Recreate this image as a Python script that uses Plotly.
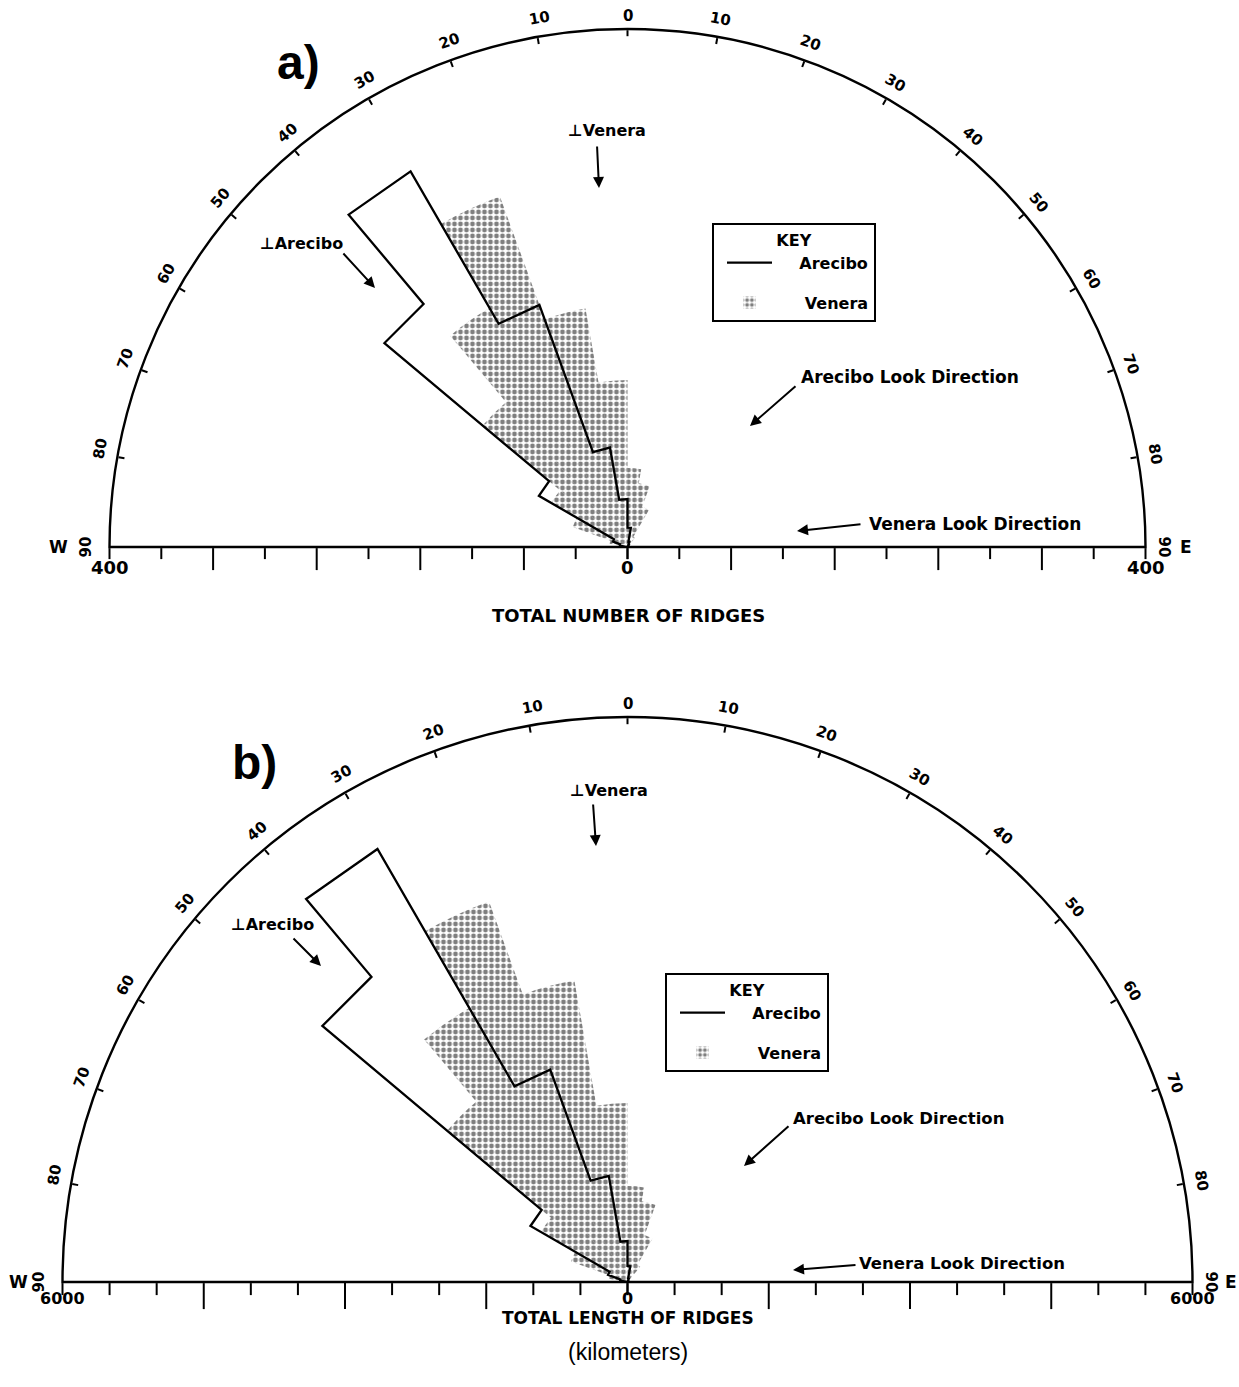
import math
import plotly.graph_objects as go

W, H = 1239, 1387
FONT = "DejaVu Sans"

# ---------------- data ----------------
bin_centers = [-85, -75, -65, -55, -45, -35, -25, -15, -5, 5, 15, 25, 35, 45, 55, 65, 75, 85]
bin_edges = list(range(-90, 91, 10))
angle_ticks = list(range(-90, 91, 10))
angle_tick_labels = [str(abs(a)) for a in angle_ticks]

arecibo_count = [3, 6, 12, 79, 245, 335, 199, 78, 37, 15, 4, 2, 1, 0, 0, 0, 0, 0]
venera_count = [2, 14, 45, 68, 146, 213, 288, 187, 129, 61, 50, 33, 9, 0, 0, 0, 0, 0]

arecibo_km = [30, 80, 220, 1190, 4230, 5310, 2400, 1145, 435, 170, 40, 15, 0, 0, 0, 0, 0, 0]
venera_km = [40, 200, 640, 1060, 2500, 3360, 4300, 3250, 1900, 1020, 870, 530, 210, 0, 0, 0, 0, 0]

count_max = 400
count_minor_ticks = [0, 40, 120, 200, 280, 360, 400]
count_major_ticks = [80, 160, 240, 320]
km_max = 6000
km_minor_ticks = [0, 500, 1000, 2000, 2500, 3500, 4000, 5000, 5500, 6000]
km_major_ticks = [1500, 3000, 4500]

NB = "\u00a0"


def envelope(values):
    th, rr = [bin_edges[0]], [0]
    for lo, hi, v in zip(bin_edges[:-1], bin_edges[1:], values):
        th += [lo, hi]
        rr += [v, v]
    th.append(bin_edges[-1])
    rr.append(0)
    return th, rr


def P(x, y):
    return x / W, 1 - y / H


panels = [
    dict(cx=627.5, cy=547, R=518, rmax=count_max, minor=count_minor_ticks,
         major=count_major_ticks, are=arecibo_count, ven=venera_count,
         ids=["polar", "polar2", "polar3", "polar4"], legend="legend",
         lmaj=22, lmin=11, lfs=18, ldy=20, key=(712, 223), tag="a"),
    dict(cx=627.5, cy=1282, R=565, rmax=km_max, minor=km_minor_ticks,
         major=km_major_ticks, are=arecibo_km, ven=venera_km,
         ids=["polar5", "polar6", "polar7", "polar8"], legend="legend2",
         lmaj=26, lmin=12, lfs=16, ldy=16, key=(665, 973), tag="b"),
]

fig = go.Figure()
layout = {}
annotations = []

for p in panels:
    cx, cy, R = p["cx"], p["cy"], p["R"]
    x0, y0 = P(cx - R, cy)
    x1, y1 = P(cx + R, cy - R)
    dom = dict(x=[x0, x1], y=[y0, y1])

    # Venera (stippled)
    fig.add_trace(go.Barpolar(
        r=p["ven"], theta=bin_centers, width=[10] * len(bin_centers),
        subplot=p["ids"][0], name=NB * 5 + "Venera", legend=p["legend"], legendrank=2,
        legendgroup=p["tag"] + "v",
        marker=dict(color="black", line=dict(width=0),
                    pattern=dict(shape=".", size=6, solidity=0.5,
                                 fgcolor="black", bgcolor="rgba(0,0,0,0)")),
        hoverinfo="skip"))
    # Arecibo (outline)
    th, rr = envelope(p["are"])
    fig.add_trace(go.Scatterpolar(
        r=rr, theta=th, mode="lines", subplot=p["ids"][0], name=NB * 4 + "Arecibo",
        legend=p["legend"], legendrank=1, legendgroup=p["tag"] + "a",
        line=dict(color="black", width=2.3), hoverinfo="skip"))
    for sid in p["ids"][1:]:
        fig.add_trace(go.Scatterpolar(r=[], theta=[], subplot=sid, showlegend=False,
                                      hoverinfo="skip"))

    specs = [
        (180, "counterclockwise", p["minor"], p["lmin"]),
        (180, "counterclockwise", p["major"], p["lmaj"]),
        (0, "clockwise", p["minor"], p["lmin"]),
        (0, "clockwise", p["major"], p["lmaj"]),
    ]
    for k, (sid, (ang, side, tv, tl)) in enumerate(zip(p["ids"], specs)):
        radial = dict(range=[0, p["rmax"]], angle=ang, side=side, tickmode="array",
                      tickvals=tv, showticklabels=False, ticks="outside", ticklen=tl,
                      tickwidth=2.2, tickcolor="black", showline=True,
                      linecolor="black", linewidth=2.2, showgrid=False)
        if k == 0:
            angular = dict(rotation=90, direction="clockwise", tickmode="array",
                           tickvals=angle_ticks, showticklabels=False, ticks="inside",
                           ticklen=6, tickwidth=2, tickcolor="black", showline=True,
                           linecolor="black", linewidth=2.4, showgrid=False)
        else:
            angular = dict(rotation=90, direction="clockwise", visible=False)
        layout[sid] = dict(domain=dom, sector=[0, 180], bgcolor="rgba(0,0,0,0)",
                           radialaxis=radial, angularaxis=angular)

    # radial axis end labels (0 at the centre, max at both ends)
    for v, sgn in [(p["rmax"], -1), (0, 0), (p["rmax"], 1)]:
        x, y = P(cx + sgn * R * v / p["rmax"], cy + p["ldy"])
        annotations.append(dict(x=x, y=y, xref="paper", yref="paper", text=str(v),
                                showarrow=False, xanchor="center", yanchor="middle",
                                font=dict(family=FONT, size=p["lfs"], color="black",
                                          weight="bold")))

    # angular tick labels, rotated along the arc
    for a, lab in zip(angle_ticks, angle_tick_labels):
        shift = 0.6 if -90 < a < 0 else 0.0
        ang = math.radians(a + shift)
        rr_ = R + (13 if a == 0 else (24 if a == -90 else 18))
        x, y = P(cx + rr_ * math.sin(ang), cy - rr_ * math.cos(ang))
        annotations.append(dict(x=x, y=y, xref="paper", yref="paper", text=lab,
                                showarrow=False, textangle=a, xanchor="center",
                                yanchor="middle",
                                font=dict(family=FONT, size=15, color="black", weight="bold")))

    # legend box (KEY)
    lx, ly = P(*p["key"])
    layout[p["legend"]] = dict(
        x=lx, y=ly, xanchor="left", yanchor="top", bgcolor="white",
        bordercolor="black", borderwidth=2, itemwidth=45, indentation=8,
        title=dict(text="KEY", side="top center",
                   font=dict(family=FONT, size=16, color="black", weight="bold")),
        font=dict(family=FONT, size=16, color="black", weight="bold"),
        tracegroupgap=16)


def text(x, y, s, size=17, weight="bold", family=FONT):
    xx, yy = P(x, y)
    annotations.append(dict(x=xx, y=yy, xref="paper", yref="paper", text=s,
                            showarrow=False, xanchor="center", yanchor="middle",
                            font=dict(family=family, size=size, color="black",
                                      weight=weight)))


def arrow(xa, ya, xb, yb):
    xx, yy = P(xb, yb)
    annotations.append(dict(x=xx, y=yy, xref="paper", yref="paper", text="",
                            showarrow=True, ax=xa - xb, ay=ya - yb, arrowhead=2,
                            arrowsize=1.1, arrowwidth=2, arrowcolor="black"))


# panel a labels
text(298, 62, "a)", size=48, family="Liberation Sans")
text(607, 130, "⊥Venera", size=16)
arrow(597, 145, 599, 188)
text(301, 243, "⊥Arecibo", size=16)
arrow(342, 252, 375, 288)
text(910, 377, "Arecibo Look Direction", size=17)
arrow(797, 385, 750, 426)
text(975, 524, "Venera Look Direction", size=17)
arrow(862, 524, 797, 531)
text(58, 547, "W", size=17)
text(1186, 547, "E", size=17)
text(628, 615, "TOTAL NUMBER OF RIDGES", size=18)

# panel b labels
text(254, 762, "b)", size=48, family="Liberation Sans")
text(609, 790, "⊥Venera", size=16)
arrow(593, 803, 596, 846)
text(272, 924, "⊥Arecibo", size=16)
arrow(292, 937, 321, 966)
text(898, 1118, "Arecibo Look Direction", size=16.5)
arrow(790, 1125, 744, 1166)
text(962, 1263, "Venera Look Direction", size=16.5)
arrow(857, 1265, 793, 1270)
text(18, 1282, "W", size=17)
text(1231, 1282, "E", size=17)
text(628, 1318, "TOTAL LENGTH OF RIDGES", size=17)
text(628, 1352, "(kilometers)", size=23, weight="normal", family="Liberation Sans")

fig.update_layout(width=W, height=H, margin=dict(l=0, r=0, t=0, b=0),
                  paper_bgcolor="white", plot_bgcolor="white",
                  annotations=annotations, **layout)

fig.write_html("out.html", config={"displayModeBar": False},
               post_script="document.body.style.margin='0';"
                           "document.body.style.overflow='hidden';")
